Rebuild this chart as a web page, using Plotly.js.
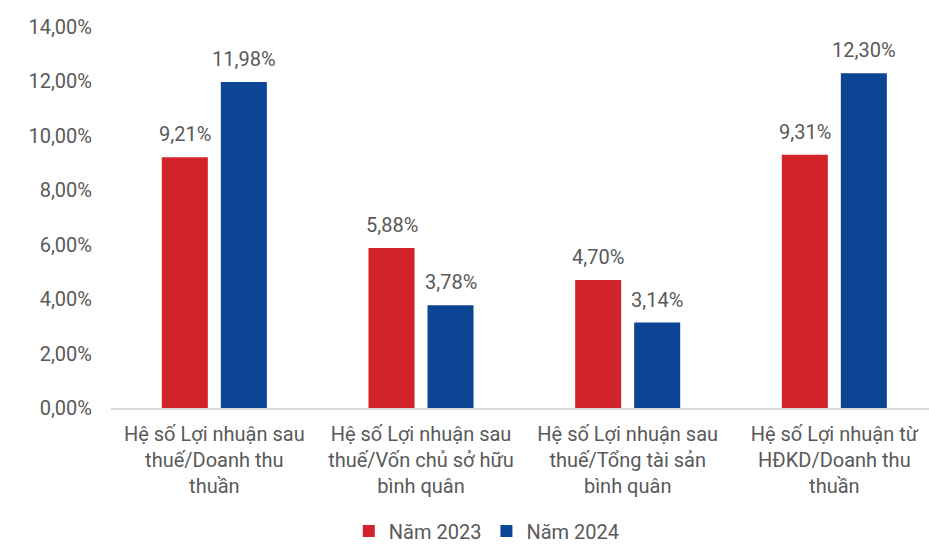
<!DOCTYPE html>
<html><head><meta charset="utf-8">
<script src="https://cdn.plot.ly/plotly-3.0.1.min.js"></script>
<style>html,body{margin:0;padding:0;background:#fff}</style>
</head><body><div id="chart" style="width:929px;height:544px"></div>
<script>
const categories = [
  "Hệ số Lợi nhuận sau<br>thuế/Doanh thu<br>thuần",
  "Hệ số Lợi nhuận sau<br>thuế/Vốn chủ sở hữu<br>bình quân",
  "Hệ số Lợi nhuận sau<br>thuế/Tổng tài sản<br>bình quân",
  "Hệ số Lợi nhuận từ<br>HĐKD/Doanh thu<br>thuần"
];
const seriesNames = ["Năm 2023", "Năm 2024"];
const values2023 = [9.21, 5.88, 4.70, 9.31];
const values2024 = [11.98, 3.78, 3.14, 12.30];
const yTickVals = [0, 2, 4, 6, 8, 10, 12, 14];
const yTickText = ["0,00%", "2,00%", "4,00%", "6,00%", "8,00%", "10,00%", "12,00%", "14,00%"];

const colors = ["#D2232A", "#0B4594"];
const gray = "#595959";
const fontFam = "Roboto, Arial, sans-serif";
const fs = 20;
const idx = categories.map((c, i) => i);
const fmt = v => v.toFixed(2).replace(".", ",") + "%";

const traces = [values2023, values2024].map((vals, k) => ({
  type: "bar", x: idx, y: vals, name: seriesNames[k],
  marker: { color: colors[k] }, hoverinfo: "skip"
}));

const annotations = [];
[values2023, values2024].forEach((vals, k) => {
  vals.forEach((v, i) => {
    annotations.push({
      x: i, y: v, xref: "x", yref: "y", text: fmt(v), showarrow: false,
      xanchor: "center", yanchor: "bottom", xshift: k === 0 ? -29.5 : 29.5, yshift: 9,
      font: { family: fontFam, size: fs, color: gray }
    });
  });
});

const layout = {
  width: 929, height: 544,
  margin: { l: 111, r: 0, t: 27, b: 136 },
  paper_bgcolor: "#fff", plot_bgcolor: "#fff",
  barmode: "group", bargap: 0.429, bargroupgap: 0.22,
  font: { family: fontFam, size: fs, color: gray },
  xaxis: {
    range: [-0.5, 3.458], tickvals: idx, ticktext: categories,
    showline: true, linecolor: "#D9D9D9", linewidth: 1.5, showgrid: false, zeroline: false,
    ticks: "", ticklabelstandoff: 7,
    tickfont: { family: fontFam, size: fs, color: gray }, fixedrange: true
  },
  yaxis: {
    range: [0, 14], tickvals: yTickVals, ticktext: yTickText,
    showgrid: false, zeroline: false, showline: false, ticks: "",
    ticklabelstandoff: 18,
    tickfont: { family: fontFam, size: fs, color: gray }, fixedrange: true
  },
  showlegend: true,
  legend: {
    orientation: "h", xref: "container", yref: "container",
    x: 0.524, xanchor: "center", y: 0.024, yanchor: "middle",
    font: { family: fontFam, size: fs, color: gray }, itemwidth: 30
  },
  annotations: annotations
};
Plotly.newPlot("chart", traces, layout, { displayModeBar: false, staticPlot: true });
</script></body></html>
